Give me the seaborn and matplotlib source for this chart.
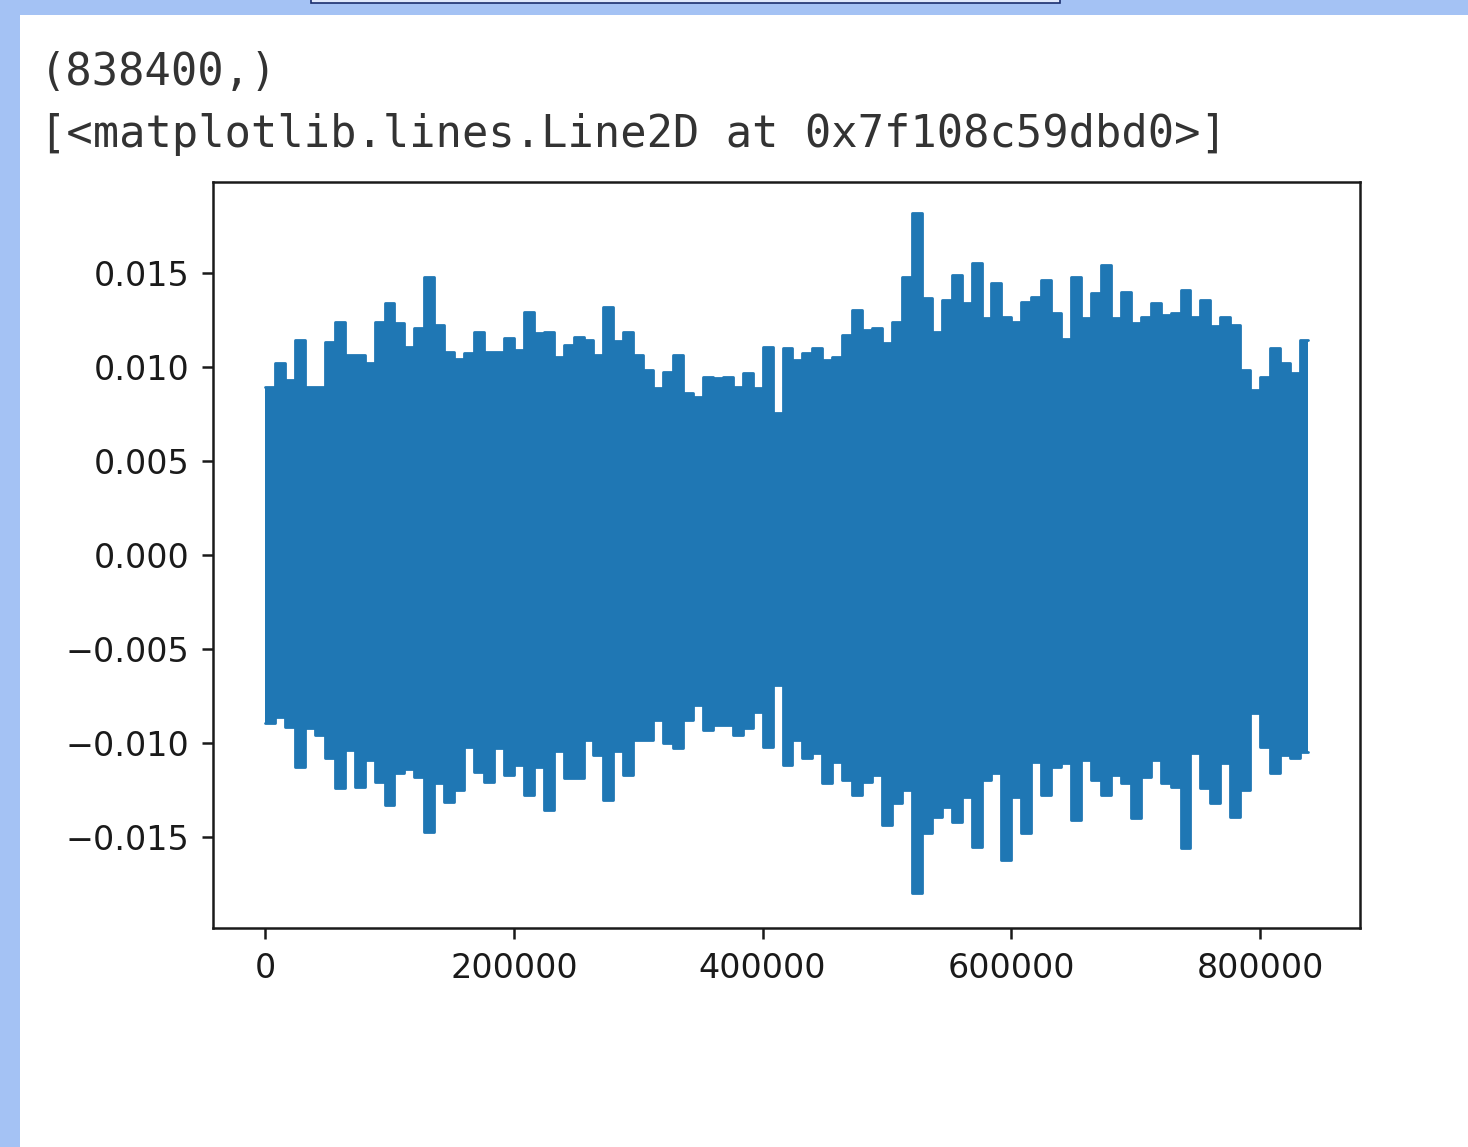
import numpy as np
import seaborn as sns
import matplotlib.pyplot as plt
from matplotlib.patches import Rectangle

# audio waveform envelope, read per 8000-sample bin (values in 1e-3)
n_samples = 838400
bin_size = 8000
upper = [8.95, 10.2, 9.3, 11.44, 8.95, 8.95, 11.35, 12.41, 10.64, 10.64,
         10.2, 12.41, 13.39, 12.32, 11.08, 12.06, 14.8, 12.23, 10.82, 10.4,
         10.73, 11.88, 10.82, 10.82, 11.52, 10.9, 12.94, 11.79, 11.88, 10.55,
         11.17, 11.61, 11.44, 10.64, 13.21, 11.4, 11.88, 10.64, 9.84, 8.87,
         9.75, 10.64, 8.6, 8.4, 9.49, 9.4, 9.49, 8.95, 9.66, 8.87,
         11.08, 7.54, 10.99, 10.37, 10.73, 10.99, 10.37, 10.55, 11.7, 13.03,
         11.97, 12.06, 11.26, 12.41, 14.8, 18.17, 13.65, 11.88, 13.56, 14.89,
         13.39, 15.51, 12.59, 14.45, 12.68, 12.41, 13.48, 13.74, 14.63, 12.85,
         11.5, 14.8, 12.59, 13.92, 15.43, 12.59, 14.0, 12.32, 12.68, 13.39,
         12.77, 12.85, 14.1, 12.68, 13.56, 12.2, 12.68, 12.23, 9.84, 8.78,
         9.49, 10.99, 10.2, 9.66, 11.44]
lower = [-8.95, -8.6, -9.13, -11.26, -9.22, -9.6, -10.82, -12.41, -10.37, -12.32,
         -10.9, -12.06, -13.3, -11.61, -11.4, -11.79, -14.72, -12.14, -13.12, -12.5,
         -10.2, -11.52, -12.06, -10.28, -11.7, -11.17, -12.77, -11.26, -13.56, -10.4,
         -11.88, -11.88, -9.84, -10.64, -13.03, -10.4, -11.7, -9.84, -9.84, -8.78,
         -10.02, -10.28, -8.78, -8.0, -9.31, -9.04, -9.04, -9.57, -9.22, -8.33,
         -10.2, -6.91, -11.17, -9.84, -10.82, -10.55, -12.14, -10.99, -11.97, -12.77,
         -12.06, -11.7, -14.36, -13.2, -12.5, -17.99, -14.8, -13.92, -13.39, -14.18,
         -12.85, -15.51, -11.97, -11.61, -16.22, -12.85, -14.8, -11.0, -12.77, -11.26,
         -11.08, -14.1, -10.9, -11.97, -12.77, -11.7, -12.14, -14.0, -11.79, -10.9,
         -12.14, -12.32, -15.6, -10.55, -12.41, -13.21, -11.08, -13.92, -12.5, -8.42,
         -10.2, -11.61, -10.64, -10.82, -10.46]
header_lines = ["(838400,)", "[<matplotlib.lines.Line2D at 0x7f108c59dbd0>]"]

W, H = 1468, 1147
sns.set_style("ticks", {"axes.edgecolor": "0.1", "xtick.color": "0.1",
                        "ytick.color": "0.1", "text.color": "0.1"})
plt.rcParams["font.family"] = ["DejaVu Sans"]

fig = plt.figure(figsize=(W / 100, H / 100), dpi=100)
fig.patch.set_facecolor("white")

# notebook frame (blue margin on the left and top)
blue = "#a4c2f4"
fig.patches.append(Rectangle((0, 0), 20 / W, 1, transform=fig.transFigure,
                             facecolor=blue, edgecolor="none"))
fig.patches.append(Rectangle((0, 1 - 15 / H), 1, 15 / H, transform=fig.transFigure,
                             facecolor=blue, edgecolor="none"))
fig.patches.append(Rectangle((311 / W, 1 - 3 / H), 749 / W, 4 / H, transform=fig.transFigure,
                             facecolor="#dfe8fb", edgecolor="#1a2f6e", lw=1.2))

# cell output text
fig.text(40 / W, 1 - 85 / H, header_lines[0], family="DejaVu Sans Mono",
         fontsize=31.5, color="#333333", va="baseline")
fig.text(40 / W, 1 - 147 / H, header_lines[1], family="DejaVu Sans Mono",
         fontsize=31.5, color="#333333", va="baseline")

ax = fig.add_axes([213 / W, 1 - 928 / H, (1360 - 213) / W, (928 - 182) / H])
ax.set_facecolor("white")

x = np.append(np.arange(len(upper)) * bin_size, n_samples - 1)
up = np.append(upper, upper[-1]) * 1e-3
lo = np.append(lower, lower[-1]) * 1e-3

wave_color = "#1f77b4"
ax.fill_between(x, lo, up, step="post", color=wave_color, lw=0)
sns.lineplot(x=x, y=up, drawstyle="steps-post", color=wave_color, lw=2, ax=ax)
sns.lineplot(x=x, y=lo, drawstyle="steps-post", color=wave_color, lw=2, ax=ax)

ax.set_xlim(-0.05 * n_samples, 1.05 * n_samples)
ax.set_ylim(-0.01984, 0.01984)
ax.set_xticks([0, 200000, 400000, 600000, 800000])
ax.set_yticks([-0.015, -0.01, -0.005, 0, 0.005, 0.01, 0.015])
ax.set_xlabel("")
ax.set_ylabel("")
ax.tick_params(labelsize=24, length=8, width=1.8, pad=9, colors="0.1")
for sp in ax.spines.values():
    sp.set_visible(True)
    sp.set_linewidth(1.8)
    sp.set_color("0.1")

fig.savefig("out.png", dpi=100, facecolor=fig.get_facecolor())
